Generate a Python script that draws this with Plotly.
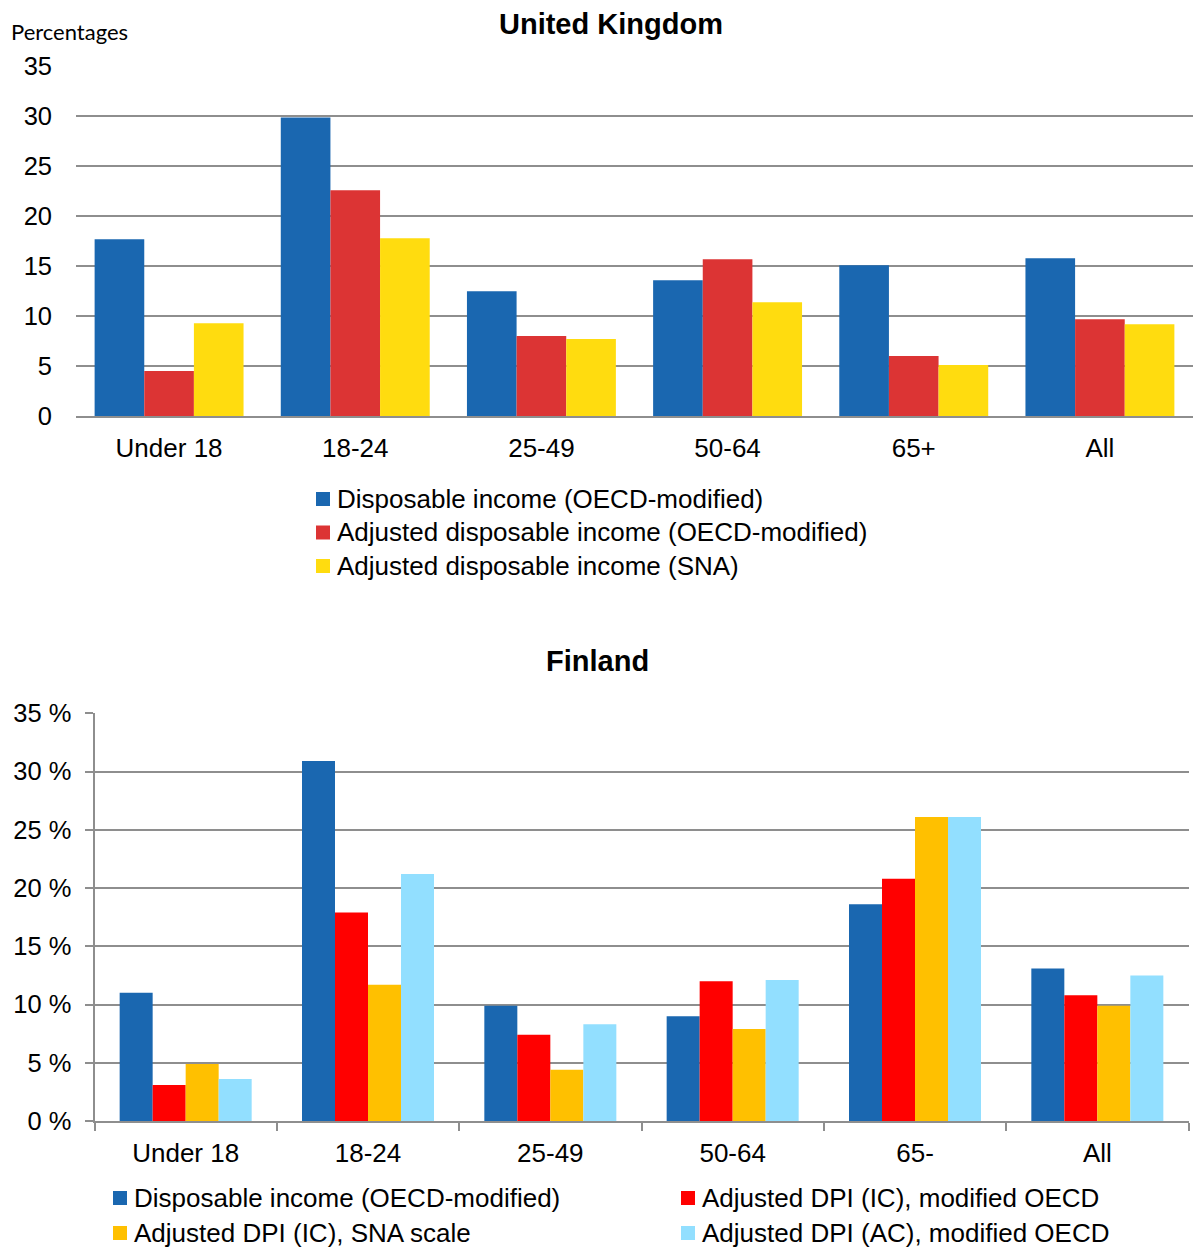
import plotly.graph_objects as go

# ---- data -------------------------------------------------------------
uk_groups = ["Under 18", "18-24", "25-49", "50-64", "65+", "All"]
uk_series = [
    "Disposable income (OECD-modified)",
    "Adjusted disposable income (OECD-modified)",
    "Adjusted disposable income (SNA)",
]
uk_disposable = [17.7, 29.9, 12.5, 13.6, 15.1, 15.8]
uk_adjusted_oecd = [4.5, 22.6, 8.0, 15.7, 6.0, 9.7]
uk_adjusted_sna = [9.3, 17.8, 7.7, 11.4, 5.1, 9.2]
uk_colors = ["#1A67B0", "#DC3434", "#FFDC0F"]

fi_groups = ["Under 18", "18-24", "25-49", "50-64", "65-", "All"]
fi_series = [
    "Disposable income (OECD-modified)",
    "Adjusted DPI (IC), modified OECD",
    "Adjusted DPI (IC), SNA scale",
    "Adjusted DPI (AC), modified OECD",
]
fi_disposable = [11.0, 30.9, 9.9, 9.0, 18.6, 13.1]
fi_adj_ic_oecd = [3.1, 17.9, 7.4, 12.0, 20.8, 10.8]
fi_adj_ic_sna = [4.9, 11.7, 4.4, 7.9, 26.1, 9.9]
fi_adj_ac_oecd = [3.6, 21.2, 8.3, 12.1, 26.1, 12.5]
fi_colors = ["#1A67B0", "#FF0000", "#FFC000", "#92DFFF"]

y_ticks = [0, 5, 10, 15, 20, 25, 30, 35]
fi_tick_text = [f"{v} %" for v in y_ticks]

# ---- page geometry (pixels) ------------------------------------------
W, H = 1193, 1250
GRID = "#8E8E8E"
FONT = "Liberation Sans, Arial, sans-serif"


def px_x(x):
    return x / W


def px_y(y):
    return 1 - y / H


fig = go.Figure()

# United Kingdom: three bars per age group
uk_values = [uk_disposable, uk_adjusted_oecd, uk_adjusted_sna]
uk_w = 0.8 / 3
for i, (name, vals, col) in enumerate(zip(uk_series, uk_values, uk_colors)):
    fig.add_trace(go.Bar(
        x=uk_groups, y=vals, name=name, marker_color=col,
        marker_line_width=0, width=uk_w, offset=-0.4 + i * uk_w,
        xaxis="x", yaxis="y", showlegend=False,
    ))

# Finland: four bars per age group
fi_values = [fi_disposable, fi_adj_ic_oecd, fi_adj_ic_sna, fi_adj_ac_oecd]
fi_w = 0.181
for i, (name, vals, col) in enumerate(zip(fi_series, fi_values, fi_colors)):
    fig.add_trace(go.Bar(
        x=fi_groups, y=vals, name=name, marker_color=col,
        marker_line_width=0, width=fi_w, offset=-2 * fi_w + i * fi_w,
        xaxis="x2", yaxis="y2", showlegend=False,
    ))

fig.update_layout(
    width=W, height=H,
    margin=dict(l=0, r=0, t=0, b=0, autoexpand=False),
    paper_bgcolor="white", plot_bgcolor="white",
    barmode="overlay",
    font=dict(family=FONT, color="#000000"),
    showlegend=False,
    xaxis=dict(
        domain=[px_x(76), 1.0], anchor="y", automargin=False,
        type="category", categoryorder="array", categoryarray=uk_groups,
        range=[-0.5, 5.5],
        showline=True, linecolor=GRID, linewidth=2,
        ticks="", showgrid=False, zeroline=False,
        tickfont=dict(size=26), ticklabelstandoff=8,
    ),
    yaxis=dict(
        domain=[px_y(416), px_y(66.5)], anchor="x", automargin=False,
        range=[0, 35], tickmode="array", tickvals=y_ticks,
        showgrid=True, gridcolor=GRID, gridwidth=2,
        showline=False, zeroline=False, ticks="",
        tickfont=dict(size=25.5), ticklabelstandoff=23,
    ),
    xaxis2=dict(
        domain=[px_x(94.5), px_x(1188.5)], anchor="y2", automargin=False,
        type="category", categoryorder="array", categoryarray=fi_groups,
        range=[-0.5, 5.5],
        showline=True, linecolor=GRID, linewidth=2,
        ticks="outside", tickson="boundaries", ticklen=8,
        tickcolor=GRID, tickwidth=2,
        showgrid=False, zeroline=False,
        tickfont=dict(size=26), ticklabelstandoff=8,
    ),
    yaxis2=dict(
        domain=[px_y(1121), px_y(713.3)], anchor="x2", automargin=False,
        range=[0, 35], tickmode="array", tickvals=y_ticks,
        ticktext=fi_tick_text,
        showgrid=True, gridcolor=GRID, gridwidth=2,
        showline=True, linecolor=GRID, linewidth=2,
        ticks="outside", ticklen=8, tickcolor=GRID, tickwidth=2,
        zeroline=False,
        tickfont=dict(size=25.5), ticklabelstandoff=8,
    ),
)

annotations = [
    dict(text="<b>United Kingdom</b>", x=px_x(611), y=px_y(24),
         font=dict(size=29)),
    dict(text="Percentages", x=px_x(9), y=px_y(31), xanchor="left",
         font=dict(size=22, family="Lato, Open Sans, sans-serif")),
    dict(text="<b>Finland</b>", x=px_x(597), y=px_y(661),
         font=dict(size=29)),
]
shapes = []

# legend entries drawn as colour squares with labels
SQ = 14


def legend_item(x_sq, y_mid, color, label):
    shapes.append(dict(
        type="rect", xref="paper", yref="paper",
        x0=px_x(x_sq), x1=px_x(x_sq + SQ),
        y0=px_y(y_mid + SQ / 2), y1=px_y(y_mid - SQ / 2),
        fillcolor=color, line=dict(width=0),
    ))
    annotations.append(dict(
        text=label, x=px_x(x_sq + SQ + 5), y=px_y(y_mid),
        xanchor="left", font=dict(size=26),
    ))


for k, (name, col) in enumerate(zip(uk_series, uk_colors)):
    legend_item(316, 499 + 33.5 * k, col, name)

fi_pos = [(113, 1198), (681, 1198), (113, 1233), (681, 1233)]
for (xs, ym), name, col in zip(fi_pos, fi_series, fi_colors):
    legend_item(xs, ym, col, name)

for a in annotations:
    a.setdefault("xref", "paper")
    a.setdefault("yref", "paper")
    a.setdefault("showarrow", False)
    a.setdefault("yanchor", "middle")
    a.setdefault("xanchor", "center")

fig.update_layout(annotations=annotations, shapes=shapes)

fig.write_html("out.html")
